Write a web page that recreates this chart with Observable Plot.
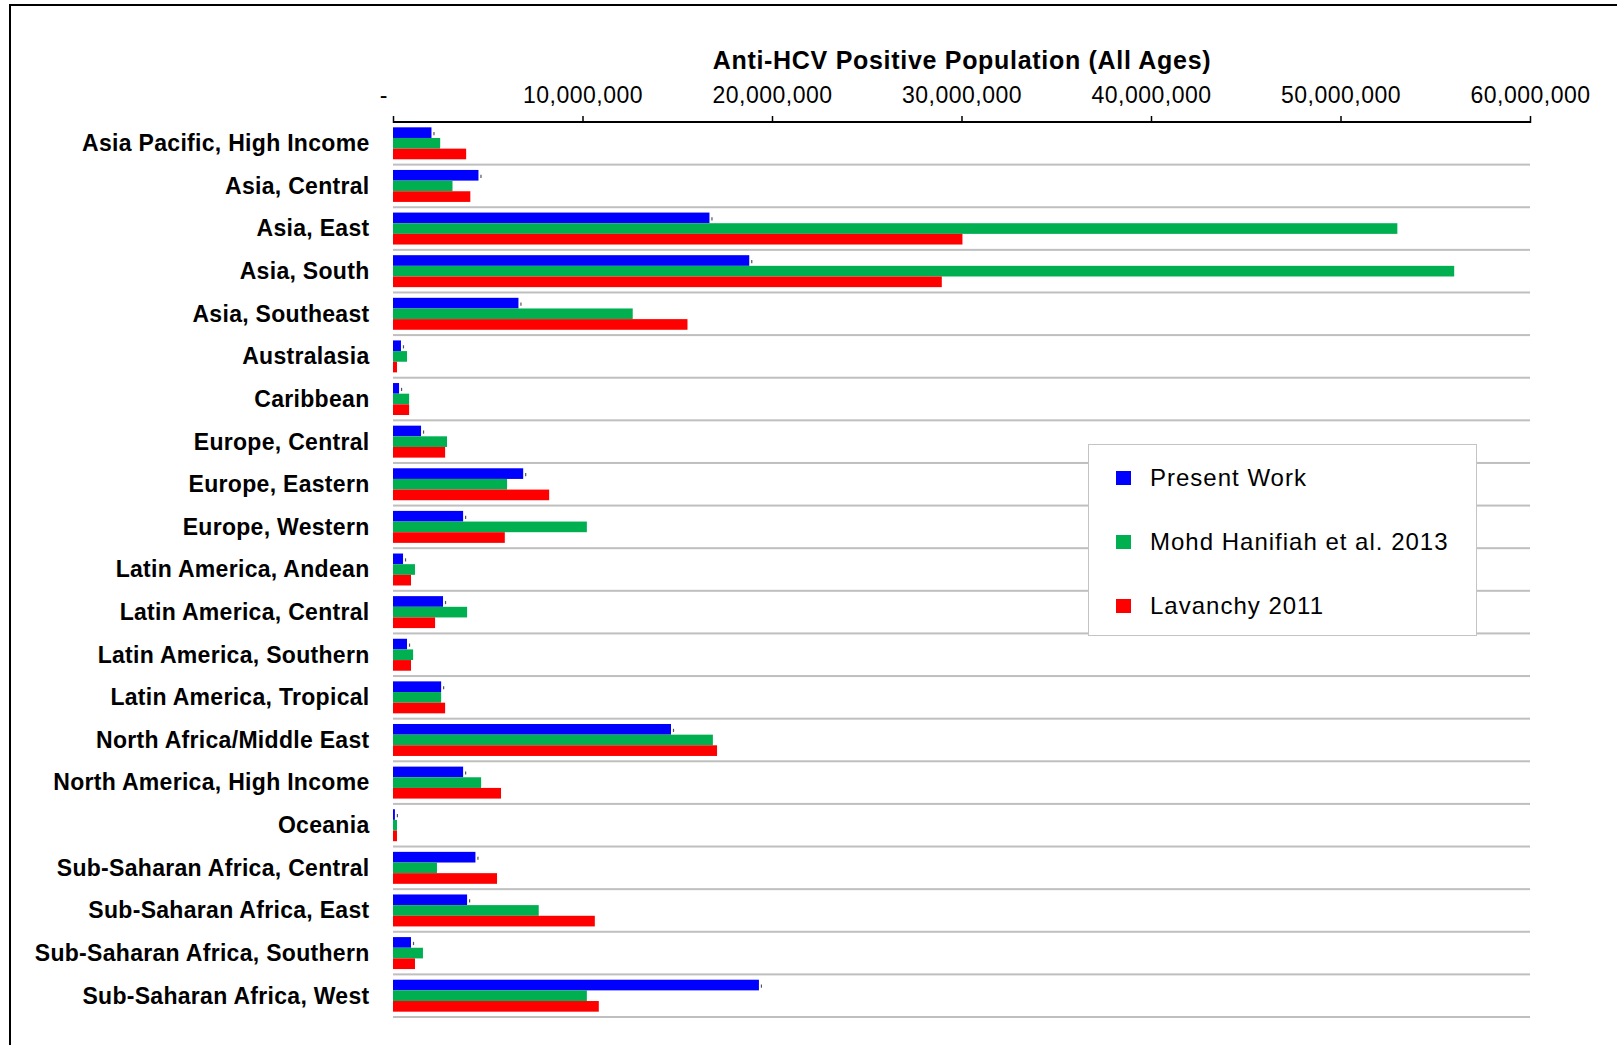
<!DOCTYPE html>
<html>
<head>
<meta charset="utf-8">
<script src="https://cdn.jsdelivr.net/npm/d3@7"></script>
<script src="https://cdn.jsdelivr.net/npm/@observablehq/plot@0.6"></script>
<style>
  html, body { margin: 0; padding: 0; background: #fff; }
  body { width: 1617px; height: 1045px; position: relative; overflow: hidden; font-family: "Liberation Sans", Arial, sans-serif; }
  #chart { position: absolute; left: 0; top: 0; }
  #border { position: absolute; left: 9px; top: 4px; width: 1700px; height: 1100px; border: 2px solid #000; pointer-events: none; }
  #legend { position: absolute; left: 1088px; top: 444px; width: 387px; height: 190px; border: 1.5px solid #c4c4c4; background: #fff; }
  .entry { position: absolute; left: 27px; height: 30px; display: flex; align-items: center; font-size: 24px; letter-spacing: 1px; color: #000; white-space: nowrap; }
  .sw { width: 15px; height: 14px; margin-right: 19px; flex: none; }
  g[font-size="25"], g[font-size="25"] text { letter-spacing: 0.7px; }
  g[aria-label="x-axis tick label"] text { letter-spacing: 0.5px; }
  g[aria-label="y-axis tick label"] text { letter-spacing: 0.3px; }
</style>
</head>
<body>
<div id="chart"></div>
<div id="legend"></div>
<div id="border"></div>
<script>
const regions = [
  "Asia Pacific, High Income",
  "Asia, Central",
  "Asia, East",
  "Asia, South",
  "Asia, Southeast",
  "Australasia",
  "Caribbean",
  "Europe, Central",
  "Europe, Eastern",
  "Europe, Western",
  "Latin America, Andean",
  "Latin America, Central",
  "Latin America, Southern",
  "Latin America, Tropical",
  "North Africa/Middle East",
  "North America, High Income",
  "Oceania",
  "Sub-Saharan Africa, Central",
  "Sub-Saharan Africa, East",
  "Sub-Saharan Africa, Southern",
  "Sub-Saharan Africa, West"
];
const seriesNames = ["Present Work", "Mohd Hanifiah et al. 2013", "Lavanchy 2011"];
const seriesColors = ["#0000ff", "#00b050", "#ff0000"];
const presentWork = [
  2030000, 4510000, 16700000, 18800000, 6620000, 420000, 320000, 1480000, 6870000, 3700000,
  530000, 2640000, 740000, 2540000, 14670000, 3700000, 100000, 4350000, 3910000, 950000, 19310000
];
const mohdHanifiah2013 = [
  2490000, 3140000, 53000000, 56000000, 12650000, 740000, 850000, 2850000, 6020000, 10230000,
  1160000, 3910000, 1060000, 2540000, 16880000, 4650000, 210000, 2320000, 7690000, 1580000, 10230000
];
const lavanchy2011 = [
  3860000, 4080000, 30050000, 28960000, 15540000, 210000, 850000, 2750000, 8240000, 5900000,
  950000, 2220000, 950000, 2750000, 17100000, 5700000, 210000, 5490000, 10650000, 1160000, 10860000
];
const xTicks = [0, 10000000, 20000000, 30000000, 40000000, 50000000, 60000000];
const xMax = 60000000;
const title = "Anti-HCV Positive Population (All Ages)";

const W = 1617, H = 1045, mT = 122, mB = 28, mL = 393, mR = 87;
const step = (H - mT - mB) / regions.length;
const barH = step * 0.25;
const outer = (step - 3 * barH) / 2;
const seriesValues = [presentWork, mohdHanifiah2013, lavanchy2011];
const rows = regions.map((r, i) => ({region: r, values: seriesValues.map(a => a[i])}));
const fmt = d3.format(",");

const barMarks = seriesValues.map((_, k) =>
  Plot.barX(rows, {
    y: "region",
    x1: 0,
    x2: d => d.values[k],
    fill: seriesColors[k],
    insetTop: outer + k * barH,
    insetBottom: step - outer - (k + 1) * barH
  })
);

const chart = Plot.plot({
  width: W,
  height: H,
  marginTop: mT,
  marginBottom: mB,
  marginLeft: mL,
  marginRight: mR,
  style: {fontFamily: "'Liberation Sans', Arial, sans-serif", background: "transparent", color: "#000", overflow: "visible"},
  x: {domain: [0, xMax], label: null},
  y: {domain: regions, padding: 0, round: false, label: null},
  marks: [
    // separators below each region
    Plot.barX(regions, {y: d => d, x1: 0, x2: xMax, fill: "#bfbfbf", insetTop: step - 1, insetBottom: -1}),
    ...barMarks,
    // tiny marks after the Present Work bars
    Plot.tickX(rows, {y: "region", x: d => d.values[0], dx: 2, stroke: "#555", strokeWidth: 1.2,
      insetTop: outer + barH * 0.45, insetBottom: step - outer - barH * 0.75}),
    // top axis line
    Plot.barX([regions[0]], {y: d => d, x1: 0, x2: xMax, fill: "#000", insetTop: -1, insetBottom: step - 1}),
    Plot.axisX(xTicks, {anchor: "top", tickSize: 7, tickPadding: 13, strokeWidth: 1.5,
      tickFormat: d => d === 0 ? "" : fmt(d), fontSize: 23, label: null}),
    Plot.text([0], {x: d => d, text: () => "-", frameAnchor: "top", lineAnchor: "bottom",
      dy: -20, dx: -10, fontSize: 23}),
    Plot.text([title], {text: d => d, frameAnchor: "top", lineAnchor: "bottom", dy: -54,
      fontSize: 25, fontWeight: "bold"}),
    Plot.axisY({anchor: "left", tickSize: 0, tickPadding: 24, fontSize: 23, fontWeight: "bold", label: null})
  ]
});
document.getElementById("chart").appendChild(chart);

const legend = document.getElementById("legend");
const centers = [33, 97, 161];
seriesNames.forEach((name, k) => {
  const e = document.createElement("div");
  e.className = "entry";
  e.style.top = (centers[k] - 15) + "px";
  const sw = document.createElement("span");
  sw.className = "sw";
  sw.style.background = seriesColors[k];
  const t = document.createElement("span");
  t.textContent = name;
  e.appendChild(sw);
  e.appendChild(t);
  legend.appendChild(e);
});
</script>
</body>
</html>
